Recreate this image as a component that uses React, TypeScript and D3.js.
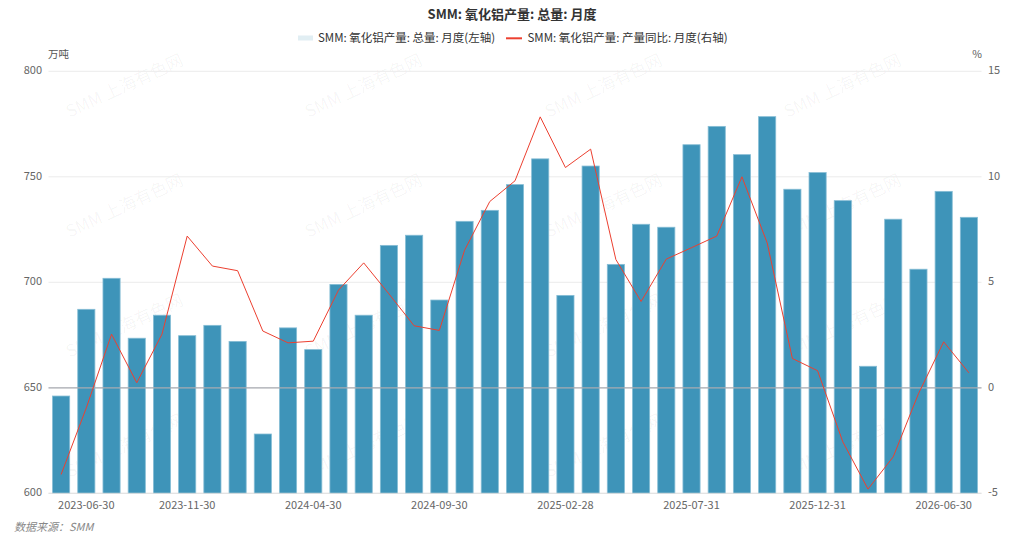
import * as d3 from 'd3';

// 日期（类目轴）
const dates = [
  '2023-05-31', '2023-06-30', '2023-07-31', '2023-08-31', '2023-10-31', '2023-11-30',
  '2023-12-31', '2024-01-31', '2024-02-29', '2024-03-31', '2024-04-30', '2024-05-31',
  '2024-06-30', '2024-07-31', '2024-08-31', '2024-09-30', '2024-10-31', '2024-11-30',
  '2024-12-31', '2025-01-31', '2025-02-28', '2025-03-31', '2025-04-30', '2025-05-31',
  '2025-06-30', '2025-07-31', '2025-08-31', '2025-09-30', '2025-10-31', '2025-11-30',
  '2025-12-31', '2026-02-28', '2026-03-31', '2026-04-30', '2026-05-31', '2026-06-30',
  '2026-07-31',
];

// 总量（万吨，左轴）
const output = [
  646.1, 687.2, 701.9, 673.5, 684.4, 674.7, 679.6, 672.0, 628.1, 678.4,
  668.1, 699.0, 684.4, 717.5, 722.3, 691.6, 728.9, 734.1, 746.3, 758.5,
  693.8, 755.1, 708.5, 727.5, 726.1, 765.2, 773.9, 760.5, 778.5, 744.1,
  752.0, 738.7, 660.2, 729.9, 706.2, 743.1, 730.8,
];

// 产量同比（%，右轴）
const yoy = [
  -4.11, -0.95, 2.54, 0.24, 2.54, 7.19, 5.77, 5.55, 2.69, 2.13,
  2.21, 4.63, 5.92, 4.45, 2.94, 2.72, 6.52, 8.83, 9.81, 12.84,
  10.44, 11.31, 6.08, 4.09, 6.10, 6.64, 7.19, 10.0, 6.87, 1.39,
  0.81, -2.56, -4.80, -3.27, -0.28, 2.18, 0.71,
];

const leftTicks = [600, 650, 700, 750, 800];
const rightTicks = [-5, 0, 5, 10, 15];
const xTickDates = ['2023-06-30', '2023-11-30', '2024-04-30', '2024-09-30', '2025-02-28', '2025-07-31', '2025-12-31', '2026-06-30'];

const W = 1024;
const H = 542;
const plot = { left: 48.5, right: 981.5, top: 71.3, bottom: 493.3 };
const font = '"Noto Sans CJK SC", "Noto Sans", sans-serif';
const barColor = '#3e94b9';
const lineColor = '#ec4030';

export default function App() {
  const x = d3.scaleBand<string>()
    .domain(dates)
    .range([plot.left, plot.right])
    .paddingInner(0.32)
    .paddingOuter(0.16);
  const yL = d3.scaleLinear().domain([600, 800]).range([plot.bottom, plot.top]);
  const yR = d3.scaleLinear().domain([-5, 15]).range([plot.bottom, plot.top]);

  const cx = (d: string) => (x(d) ?? 0) + x.bandwidth() / 2;
  const line = d3.line<number>()
    .x((_, i) => cx(dates[i]))
    .y((d) => yR(d));

  const marks: { x: number; y: number }[] = [];
  for (const wy of [87, 207, 327, 447]) {
    for (const wx of [125, 364, 604, 843]) marks.push({ x: wx, y: wy });
  }

  return (
    <div style={{ position: 'absolute', left: 0, top: 0 }}>
      <svg width={W} height={H} style={{ display: 'block', fontFamily: font }}>
        <rect width={W} height={H} fill="#fff" />

        {/* watermark */}
        {marks.map((m, i) => (
          <text key={i} x={m.x} y={m.y} textAnchor="middle" dominantBaseline="middle"
            transform={`rotate(-25 ${m.x} ${m.y})`} fontSize={17} fill="rgba(0,0,0,0.045)">
            SMM 上海有色网
          </text>
        ))}

        {/* title */}
        <text x={512} y={15} textAnchor="middle" dominantBaseline="middle" fontSize={13}
          fontWeight="bold" fill="#333">SMM: 氧化铝产量: 总量: 月度</text>

        {/* legend */}
        <rect x={298} y={35.5} width={15} height={5} fill="#e1eef3" />
        <text x={318} y={38.5} dominantBaseline="middle" fontSize={11.5} fill="#333">
          SMM: 氧化铝产量: 总量: 月度(左轴)
        </text>
        <line x1={506} x2={522} y1={38.3} y2={38.3} stroke={lineColor} strokeWidth={2} />
        <text x={527.5} y={38.5} dominantBaseline="middle" fontSize={11.5} fill="#333">
          SMM: 氧化铝产量: 产量同比: 月度(右轴)
        </text>

        {/* unit labels */}
        <text x={48} y={55} dominantBaseline="middle" fontSize={10.5} fill="#555">万吨</text>
        <text x={982} y={55} textAnchor="end" dominantBaseline="middle" fontSize={10.5} fill="#555">%</text>

        {/* grid */}
        {leftTicks.map((t) => (
          <line key={t} x1={plot.left} x2={plot.right} y1={yL(t)} y2={yL(t)}
            stroke="#ebebeb" strokeWidth={1} />
        ))}

        {/* left axis labels */}
        {leftTicks.map((t) => (
          <text key={t} x={42} y={yL(t)} textAnchor="end" dominantBaseline="middle"
            fontSize={11} fill="#666">{t}</text>
        ))}
        {/* right axis labels */}
        {rightTicks.map((t) => (
          <text key={t} x={988} y={yR(t)} dominantBaseline="middle" fontSize={11} fill="#666">{t}</text>
        ))}

        {/* bars */}
        {output.map((v, i) => (
          <rect key={i} x={x(dates[i])} y={yL(v)} width={x.bandwidth()} height={plot.bottom - yL(v)}
            fill={barColor} stroke="#86bdd5" strokeWidth={0.8} />
        ))}

        {/* zero line of right axis */}
        <line x1={plot.left} x2={plot.right} y1={yR(0)} y2={yR(0)} stroke="#a9abb2" strokeWidth={1.2} />
        <line x1={plot.left} x2={plot.right} y1={plot.bottom} y2={plot.bottom} stroke="#e0e0e0" strokeWidth={1} />

        {/* yoy line */}
        <path d={line(yoy) ?? ''} fill="none" stroke={lineColor} strokeWidth={1} />

        {/* x axis labels */}
        {xTickDates.map((d) => (
          <text key={d} x={cx(d)} y={506} textAnchor="middle" dominantBaseline="middle"
            fontSize={11} fill="#666">{d}</text>
        ))}

        {/* source */}
        <text x={14} y={528} dominantBaseline="middle" fontSize={11} fontStyle="italic" fill="#888">
          数据来源：SMM
        </text>
      </svg>
    </div>
  );
}
